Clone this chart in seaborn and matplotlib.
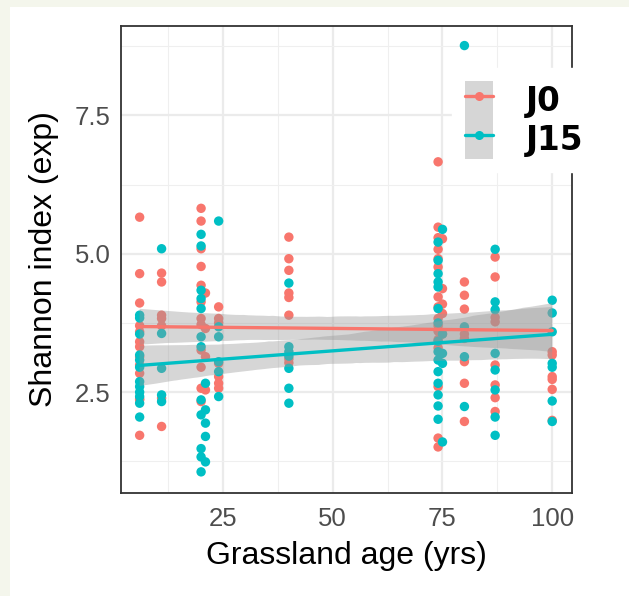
import matplotlib
matplotlib.use("Agg")
import matplotlib.pyplot as plt
import pandas as pd
import seaborn as sns
from matplotlib.patches import Patch, Rectangle
from matplotlib.lines import Line2D
from matplotlib.legend_handler import HandlerTuple
from matplotlib.ticker import FormatStrFormatter

# grassland age (yrs) and Shannon index (exp) per sample
j0_age = [6] * 13 + [11] * 7 + [20] * 12 + [21] * 4 + [24] * 7 + [40] * 8 + \
         [74] * 16 + [75] * 5 + [80] * 8 + [87] * 8 + [100] * 6
j0_shannon = [5.66, 4.64, 4.11, 3.70, 3.59, 3.41, 3.32, 3.14, 2.99, 2.84, 2.38, 2.36, 1.72,
              4.65, 4.49, 3.89, 3.83, 3.70, 2.39, 1.88,
              5.82, 5.59, 5.09, 4.77, 4.43, 4.13, 3.83, 3.72, 3.26, 2.95, 2.57, 2.33,
              4.29, 3.65, 3.14, 2.54,
              4.04, 3.83, 3.75, 3.02, 2.78, 2.66, 2.57,
              5.30, 4.91, 4.70, 4.29, 4.21, 3.89, 3.10, 3.03,
              6.66, 5.48, 5.29, 5.08, 4.91, 4.76, 4.22, 4.04, 3.83, 3.70, 3.60, 3.45, 3.30, 2.60, 1.67, 1.51,
              5.27, 4.37, 4.09, 3.92, 3.55,
              4.49, 4.25, 4.00, 3.55, 3.47, 3.05, 2.66, 1.97,
              4.94, 4.58, 3.85, 3.77, 2.99, 2.63, 2.40, 2.15,
              3.23, 3.17, 2.78, 2.73, 2.55, 1.99]

j15_age = [6] * 12 + [11] * 5 + [20] * 12 + [21] * 5 + [24] * 6 + [40] * 7 + \
          [74] * 15 + [75] * 5 + [80] * 4 + [87] * 8 + [100] * 7
j15_shannon = [3.89, 3.84, 3.55, 3.17, 3.08, 2.95, 2.69, 2.60, 2.50, 2.42, 2.30, 2.05,
               5.09, 3.56, 2.93, 2.45, 2.33,
               5.35, 5.14, 4.34, 4.19, 4.01, 3.50, 3.32, 2.36, 2.09, 1.48, 1.33, 1.06,
               2.66, 2.18, 1.94, 1.70, 1.24,
               5.59, 3.68, 3.50, 3.05, 2.87, 2.42,
               4.47, 3.32, 3.23, 3.15, 2.93, 2.57, 2.30,
               5.21, 4.88, 4.64, 4.49, 4.40, 4.01, 3.75, 3.42, 3.23, 3.08, 2.87, 2.66, 2.45, 2.25, 2.01,
               5.44, 3.55, 3.20, 3.02, 1.60,
               8.76, 3.68, 3.14, 2.24,
               5.08, 4.13, 3.99, 3.20, 2.90, 2.54, 2.05, 1.72,
               4.16, 3.93, 3.59, 3.02, 2.95, 2.34, 1.97]

groups = ["J0", "J15"]
colors = {"J0": "#F8766D", "J15": "#00BFC4"}

df = pd.concat([
    pd.DataFrame({"age": j0_age, "shannon": j0_shannon, "group": "J0"}),
    pd.DataFrame({"age": j15_age, "shannon": j15_shannon, "group": "J15"}),
], ignore_index=True)

sns.set_style("white")
plt.rcParams["font.family"] = ["Liberation Sans", "DejaVu Sans"]

fig = plt.figure(figsize=(6.29, 5.96), dpi=100, facecolor="#F4F6EC")
fig.patches.append(Rectangle((10 / 629, 0), 1, 1 - 7 / 596, transform=fig.transFigure,
                             facecolor="white", edgecolor="none", zorder=-1))
ax = fig.add_axes([0.192, 0.173, 0.718, 0.784])
ax.set_facecolor("white")

sns.scatterplot(data=df, x="age", y="shannon", hue="group", palette=colors,
                s=46, linewidth=0, alpha=1, legend=False, ax=ax)

n_before = len(ax.collections)
for g in groups:
    sub = df[df.group == g]
    sns.regplot(data=sub, x="age", y="shannon", scatter=False, ci=95, seed=1,
                color=colors[g], line_kws={"lw": 2.4}, ax=ax)
for coll in ax.collections[n_before:]:
    coll.set_facecolor("#999999")
    coll.set_alpha(0.4)
    coll.set_edgecolor("none")

ax.set_xlim(1.7, 104.6)
ax.set_ylim(0.68, 9.12)
ax.set_xticks([25, 50, 75, 100])
ax.set_xticks([12.5, 37.5, 62.5, 87.5], minor=True)
ax.set_yticks([2.5, 5.0, 7.5])
ax.set_yticks([1.25, 3.75, 6.25, 8.75], minor=True)
ax.yaxis.set_major_formatter(FormatStrFormatter("%.1f"))
ax.grid(which="major", color="#EBEBEB", lw=1.6)
ax.grid(which="minor", color="#EFEFEF", lw=0.8)
ax.set_axisbelow(True)
ax.tick_params(which="major", length=3.5, width=1.1, color="#333333",
               labelsize=18.5, labelcolor="#4D4D4D")
ax.tick_params(axis="x", which="major", pad=7)
ax.tick_params(axis="y", which="major", pad=4)
ax.tick_params(which="minor", length=0)
for sp in ax.spines.values():
    sp.set_color("#333333")
    sp.set_linewidth(1.3)

ax.set_xlabel("Grassland age (yrs)", fontsize=23, color="black", labelpad=7)
ax.set_ylabel("Shannon index (exp)", fontsize=23, color="black", labelpad=11)

handles = [(Patch(facecolor="#D6D6D6", edgecolor="none"),
            Line2D([], [], color=colors[g], lw=2.4, marker="o", ms=6.5, mec="none"))
           for g in groups]
fig.legend(handles, groups, loc="upper left", bbox_to_anchor=(452 / 629, 1 - 68 / 596),
           handler_map={tuple: HandlerTuple(ndivide=1, pad=0)},
           prop={"family": "DejaVu Sans", "weight": "bold", "size": 23.5}, labelcolor="black",
           frameon=True, fancybox=False, framealpha=1, facecolor="white", edgecolor="white",
           handlelength=0.85, handleheight=1.45, handletextpad=1.0, labelspacing=0.0,
           borderpad=0.4, borderaxespad=0)

fig.savefig("out.png", dpi=100, facecolor=fig.get_facecolor())
